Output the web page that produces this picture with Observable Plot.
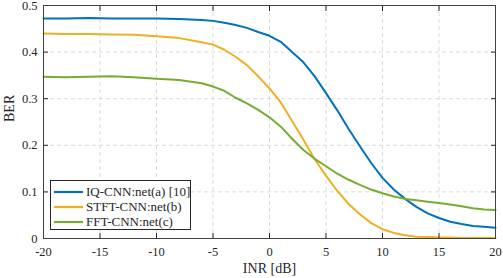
<!DOCTYPE html>
<html><head><meta charset="utf-8">
<script src="https://cdn.jsdelivr.net/npm/d3@7"></script>
<script src="https://cdn.jsdelivr.net/npm/@observablehq/plot@0.6"></script>
<style>
body{margin:0;background:#fff;}
#wrap{position:relative;width:503px;height:278px;}
#legend{position:absolute;left:50px;top:180px;width:139px;height:48px;border:1px solid #262626;background:#fff;font-family:"Liberation Serif",serif;font-size:13px;color:#262626;}
.row{position:absolute;left:3px;height:15px;display:flex;align-items:center;}
.row span{margin-left:3px;white-space:nowrap;}
</style></head>
<body><div id="wrap"><div id="chart"></div><div id="legend"></div></div>
<script>
const inr = [-20,-18,-16,-14,-12,-10,-8,-6,-5,-4,-3,-2,-1,0,1,2,3,4,5,6,7,8,9,10,11,12,13,14,15,16,17,18,19,20];
const berIQ =   [0.472,0.472,0.473,0.472,0.472,0.472,0.471,0.469,0.467,0.463,0.458,0.452,0.443,0.435,0.422,0.400,0.378,0.348,0.312,0.275,0.235,0.198,0.162,0.130,0.105,0.085,0.068,0.054,0.044,0.036,0.031,0.027,0.025,0.023];
const berSTFT = [0.440,0.439,0.439,0.438,0.437,0.434,0.430,0.421,0.416,0.405,0.390,0.372,0.348,0.322,0.292,0.252,0.212,0.170,0.135,0.102,0.074,0.052,0.033,0.020,0.012,0.007,0.004,0.003,0.002,0.002,0.001,0.001,0.001,0.001];
const berFFT =  [0.347,0.346,0.347,0.348,0.346,0.343,0.340,0.333,0.326,0.317,0.302,0.290,0.276,0.260,0.240,0.214,0.190,0.171,0.155,0.139,0.126,0.115,0.105,0.097,0.090,0.085,0.082,0.079,0.076,0.073,0.069,0.065,0.062,0.061];
const seriesNames = ["IQ-CNN:net(a) [10]","STFT-CNN:net(b)","FFT-CNN:net(c)"];
const seriesColors = ["#0072BD","#EDB120","#77AC30"];
const xTicks = [-20,-15,-10,-5,0,5,10,15,20];
const yTicks = [0,0.1,0.2,0.3,0.4,0.5];
const xLabel = "INR [dB]";
const yLabel = "BER";

const allSeries = [berIQ, berSTFT, berFFT];
const rows = [];
allSeries.forEach((arr, s) => arr.forEach((v, i) => rows.push({x: inr[i], y: v, s: seriesNames[s]})));

const axisColor = "#262626";
const font = "Liberation Serif";
const chart = Plot.plot({
  width: 503, height: 278,
  marginLeft: 43, marginRight: 8, marginTop: 5, marginBottom: 40,
  style: {fontFamily: font, fontSize: "12px", color: axisColor, background: "#fff"},
  x: {domain: [-20, 20]},
  y: {domain: [0, 0.5]},
  color: {domain: seriesNames, range: seriesColors},
  marks: [
    Plot.gridX(xTicks, {stroke: "#dadada", strokeOpacity: 1, strokeDasharray: "4,3"}),
    Plot.gridY(yTicks, {stroke: "#dadada", strokeOpacity: 1, strokeDasharray: "4,3"}),
    Plot.line(rows, {x: "x", y: "y", z: "s", stroke: "s", strokeWidth: 2, curve: "linear"}),
    Plot.axisX({ticks: xTicks, tickSize: -5, tickPadding: 14, tickFormat: d => String(d), label: null, fontSize: 12.5, stroke: axisColor}),
    Plot.axisX({anchor: "top", ticks: xTicks, tickSize: -5, tickFormat: () => "", label: null, stroke: axisColor}),
    Plot.axisY({ticks: yTicks, tickSize: -5, tickPadding: 11, tickFormat: d => String(d), label: null, fontSize: 12.5, stroke: axisColor}),
    Plot.axisY({anchor: "right", ticks: yTicks, tickSize: -5, tickFormat: () => "", label: null, stroke: axisColor}),
    Plot.text([xLabel], {frameAnchor: "bottom", dy: 30, fontSize: 14, lineAnchor: "middle", fill: axisColor}),
    Plot.text([yLabel], {frameAnchor: "left", dx: -34, rotate: -90, fontSize: 14, lineAnchor: "middle", fill: axisColor}),
    Plot.frame({stroke: "#404040", strokeWidth: 1})
  ]
});
document.getElementById("chart").appendChild(chart);

const leg = document.getElementById("legend");
seriesNames.forEach((name, i) => {
  const r = document.createElement("div");
  r.className = "row";
  r.style.top = (3 + i * 15) + "px";
  r.innerHTML = `<svg width="29" height="4"><line x1="0" y1="2" x2="29" y2="2" stroke="${seriesColors[i]}" stroke-width="2.2"/></svg><span>${name}</span>`;
  leg.appendChild(r);
});
</script></body></html>
